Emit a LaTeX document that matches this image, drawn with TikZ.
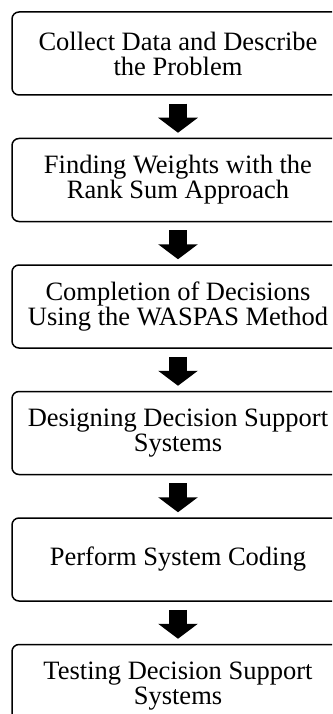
\documentclass[tikz,border=0pt]{standalone}
\usepackage{fontspec}
\setmainfont{Liberation Serif}
\usetikzlibrary{arrows.meta, positioning}

\begin{document}
\begin{tikzpicture}[
    x=1pt, y=1pt,
    node distance=42pt,
    stepbox/.style={rectangle, draw=black, line width=1.5pt, rounded corners=7pt, minimum width=332pt, minimum height=83pt, align=center, inner sep=0pt, font=\fontsize{26.5}{25}\selectfont},
    arrow/.style={-{Triangle[width=39pt, length=15pt]}, line width=18pt, shorten <=8pt, shorten >=5pt}
]

    \useasboundingbox (0,0) rectangle (332,-714);
    \clip (0,0) rectangle (332,-714);

    % Nodes
    \node[stepbox] (collect) at (178,-53.5) {Collect Data and Describe\\the Problem};
    \node[stepbox, below=of collect] (weights) {Finding Weights with the\\Rank Sum Approach};
    \node[stepbox, below=of weights] (waspas) {Completion of Decisions\\Using the WASPAS Method};
    \node[stepbox, below=of waspas] (design) {Designing Decision Support\\Systems};
    \node[stepbox, below=of design] (coding) {Perform System Coding};
    \node[stepbox, below=of coding] (testing) {Testing Decision Support\\Systems};

    % Arrows
    \draw[arrow] (collect) -- (weights);
    \draw[arrow] (weights) -- (waspas);
    \draw[arrow] (waspas) -- (design);
    \draw[arrow] (design) -- (coding);
    \draw[arrow] (coding) -- (testing);

\end{tikzpicture}
\end{document}
